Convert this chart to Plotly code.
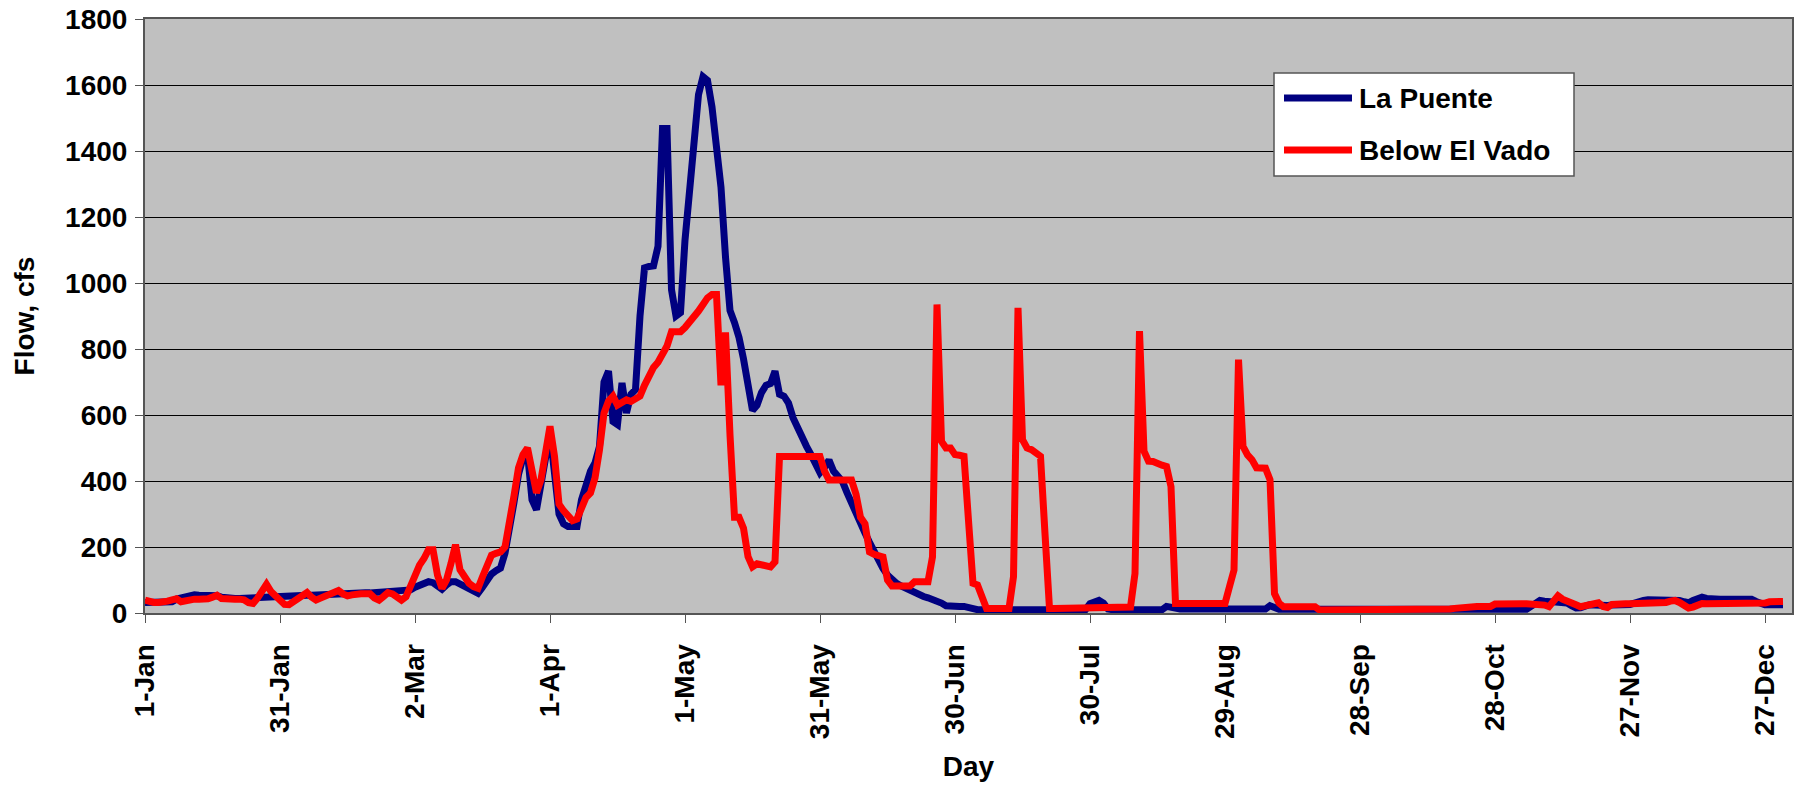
import pandas as pd
import plotly.graph_objects as go

# ---------------- data (daily flow, cfs) ----------------
YEAR = 2009  # any non-leap year
days = pd.date_range(f"{YEAR}-01-01", periods=365, freq="D")

tick_labels = ["1-Jan", "31-Jan", "2-Mar", "1-Apr", "1-May", "31-May", "30-Jun",
               "30-Jul", "29-Aug", "28-Sep", "28-Oct", "27-Nov", "27-Dec"]
y_ticks = [0, 200, 400, 600, 800, 1000, 1200, 1400, 1600, 1800]

series_names = ["La Puente", "Below El Vado"]

la_puente_jan = [32, 32, 31, 31, 31, 32, 34, 42, 46, 50, 55, 55, 54, 54, 54, 53, 52,
                 48, 45, 44, 44, 44, 45, 45, 46, 46, 47, 48, 49, 50, 50]
la_puente_feb = [51, 51, 52, 52, 53, 54, 54, 55, 55, 56, 56, 57, 58, 58, 59, 59, 60, 60,
                 61, 61, 62, 62, 63, 63, 64, 65, 66, 68]
la_puente_mar = [70, 78, 85, 90, 95, 92, 80, 72, 85, 95, 95, 88, 78, 70, 65, 60, 78, 100,
                 118, 128, 136, 181, 250, 335, 420, 470, 485, 343, 313, 384, 480]
la_puente_apr = [546, 424, 300, 270, 262, 262, 262, 343, 390, 430, 455, 505, 700, 733, 580,
                 571, 697, 606, 663, 677, 900, 1046, 1050, 1052, 1111, 1468, 1468, 980, 900, 910]
la_puente_may = [1130, 1270, 1425, 1571, 1625, 1614, 1533, 1425, 1290, 1079, 917, 880, 835,
                 770, 690, 614, 630, 668, 690, 695, 733, 663, 657, 636, 592, 560, 535, 505,
                 480, 450, 425]
la_puente_jun = [441, 463, 430, 410, 398, 365, 333, 295, 262, 242, 214, 185, 160, 135, 115,
                 100, 90, 82, 75, 68, 62, 56, 50, 46, 42, 38, 30, 22, 20, 20]
la_puente_jul = [20, 20, 15, 12, 10, 10, 10, 10, 10, 10, 10, 10, 10, 10, 10, 10, 10, 10, 10,
                 10, 10, 10, 10, 10, 10, 10, 10, 10, 10, 28, 36]
la_puente_aug = [38, 30, 12, 10, 10, 10, 10, 10, 10, 10, 10, 10, 10, 10, 10, 20, 16, 12, 12,
                 12, 12, 12, 12, 12, 12, 12, 12, 12, 12, 12, 12]
la_puente_sep = [12, 12, 12, 12, 12, 12, 12, 22, 14, 11, 11, 11, 11, 11, 11, 11, 11, 11, 11,
                 11, 11, 11, 11, 11, 11, 11, 11, 11, 11, 11]
la_puente_oct = [9, 9, 9, 9, 9, 9, 9, 9, 9, 9, 9, 9, 9, 9, 9, 9, 9, 9, 9, 9, 9, 9, 9, 9, 9,
                 9, 9, 11, 11, 11, 11]
la_puente_nov = [11, 11, 11, 11, 20, 32, 38, 36, 35, 34, 34, 33, 30, 22, 15, 16, 22, 25, 24,
                 22, 22, 23, 24, 24, 25, 25, 26, 30, 36, 38]
la_puente_dec = [40, 40, 40, 40, 40, 40, 40, 38, 34, 31, 38, 45, 48, 44, 42, 42, 42, 42, 42,
                 42, 42, 42, 42, 42, 35, 28, 25, 25, 25, 25, 25]

el_vado_jan = [39, 33, 32, 32, 32, 36, 40, 43, 34, 38, 41, 42, 42, 42, 43, 48, 54, 44, 42,
               42, 42, 42, 40, 31, 29, 45, 70, 87, 65, 50, 35]
el_vado_feb = [26, 25, 35, 45, 55, 62, 48, 39, 45, 52, 55, 62, 68, 58, 52, 55, 58, 58, 58,
               58, 45, 39, 50, 62, 58, 45, 39, 49]
el_vado_mar = [85, 120, 145, 165, 192, 192, 115, 75, 100, 150, 207, 131, 110, 90, 80, 75,
               110, 140, 175, 181, 185, 200, 270, 355, 440, 480, 500, 424, 364, 404, 500]
el_vado_apr = [566, 475, 330, 310, 295, 280, 285, 323, 350, 364, 409, 495, 606, 642, 657,
               630, 641, 646, 641, 650, 657, 690, 720, 744, 760, 790, 809, 852, 852, 852]
el_vado_may = [865, 880, 895, 915, 935, 955, 965, 965, 690, 850, 540, 290, 290, 257, 171,
               140, 149, 145, 140, 140, 155, 474, 474, 474, 474, 474, 474, 474, 474, 474, 474]
el_vado_jun = [430, 403, 403, 403, 403, 403, 403, 360, 290, 270, 185, 178, 176, 170, 100,
               82, 82, 82, 82, 82, 95, 95, 95, 95, 170, 935, 520, 500, 500, 480]
el_vado_jul = [478, 475, 280, 90, 85, 50, 14, 14, 14, 14, 14, 14, 110, 925, 525, 500, 495,
               485, 475, 240, 14, 14, 14, 14, 14, 14, 14, 14, 14, 14, 14]
el_vado_aug = [14, 14, 14, 14, 14, 14, 14, 18, 120, 854, 490, 460, 459, 452, 448, 444, 383,
               29, 29, 29, 29, 29, 29, 29, 29, 29, 29, 29, 29, 80, 130]
el_vado_sep = [768, 505, 479, 464, 440, 439, 439, 404, 59, 30, 19, 19, 19, 19, 19, 19, 19,
               19, 9, 9, 9, 9, 9, 9, 9, 9, 9, 9, 9, 9]
el_vado_oct = [8, 8, 8, 8, 8, 8, 8, 8, 8, 8, 8, 8, 8, 8, 8, 9, 10, 12, 14, 16, 17, 17, 20,
               20, 20, 20, 20, 27, 28, 28, 28]
el_vado_nov = [28, 28, 28, 28, 28, 28, 28, 24, 19, 40, 52, 42, 38, 32, 25, 19, 22, 24, 28,
               31, 20, 17, 26, 28, 28, 28, 28, 28, 28, 28]
el_vado_dec = [28, 28, 28, 28, 32, 36, 38, 32, 24, 15, 18, 24, 29, 28, 28, 28, 28, 28, 28,
               28, 28, 28, 28, 28, 28, 28, 30, 34, 35, 35, 35]

la_puente = (la_puente_jan + la_puente_feb + la_puente_mar + la_puente_apr + la_puente_may
             + la_puente_jun + la_puente_jul + la_puente_aug + la_puente_sep + la_puente_oct
             + la_puente_nov + la_puente_dec)
below_el_vado = (el_vado_jan + el_vado_feb + el_vado_mar + el_vado_apr + el_vado_may
                 + el_vado_jun + el_vado_jul + el_vado_aug + el_vado_sep + el_vado_oct
                 + el_vado_nov + el_vado_dec)
assert len(la_puente) == 365 and len(below_el_vado) == 365

tick_vals = [pd.to_datetime(f"{t}-{YEAR}", format="%d-%b-%Y") for t in tick_labels]

# ---------------- styling ----------------
W, H = 1807, 788
L, R, T, B = 145, 15, 19, 175
FONT = "Liberation Sans, Arial, Helvetica, sans-serif"
colors = ["#000080", "#FF0000"]

fig = go.Figure()
for name, vals, col in zip(series_names, [la_puente, below_el_vado], colors):
    fig.add_trace(go.Scatter(x=days, y=vals, mode="lines", name=name,
                             line=dict(color=col, width=7), showlegend=False))

fig.update_layout(
    width=W, height=H,
    margin=dict(l=L, r=R, t=T, b=B, pad=0, autoexpand=False),
    paper_bgcolor="white", plot_bgcolor="#C0C0C0",
    font=dict(family=FONT, size=28, color="black"),
    showlegend=False,
)

fig.update_xaxes(
    type="date", automargin=False,
    range=[days[0], days[0] + pd.Timedelta(days=366)],
    tickmode="array", tickvals=tick_vals, ticktext=tick_labels,
    tickangle=-90, ticks="outside", ticklen=8, tickwidth=1, tickcolor="#555555",
    ticklabelstandoff=10,
    tickfont=dict(family=FONT, size=28, color="black", weight="bold"),
    showgrid=False, zeroline=False,
    showline=True, linecolor="#555555", linewidth=2, mirror=True,
    title=dict(text="Day", font=dict(family=FONT, size=28, color="black", weight="bold"),
               standoff=18),
)
fig.update_yaxes(
    automargin=False,
    range=[0, 1800], tickmode="array", tickvals=y_ticks,
    ticks="outside", ticklen=8, tickwidth=1, tickcolor="#555555",
    ticklabelstandoff=2,
    tickfont=dict(family=FONT, size=28, color="black", weight="bold"),
    showgrid=True, gridcolor="#000000", gridwidth=1, zeroline=False,
    showline=True, linecolor="#555555", linewidth=2, mirror=True,
    title=dict(text="Flow, cfs", font=dict(family=FONT, size=28, color="black", weight="bold"),
               standoff=22),
)

# ---------------- legend (boxed, upper right) ----------------
pw, ph = W - L - R, H - T - B
def px(x):
    return (x - L) / pw
def py(y):
    return (H - B - y) / ph

fig.add_shape(type="rect", xref="paper", yref="paper",
              x0=px(1274), x1=px(1574), y0=py(176), y1=py(73),
              fillcolor="white", line=dict(color="#555555", width=1.5), layer="above")
for i, (name, col) in enumerate(zip(series_names, colors)):
    yc = [98, 150][i]
    fig.add_shape(type="line", xref="paper", yref="paper",
                  x0=px(1284), x1=px(1352), y0=py(yc), y1=py(yc),
                  line=dict(color=col, width=7), layer="above")
    fig.add_annotation(xref="paper", yref="paper", x=px(1357), y=py(yc),
                       text=name, showarrow=False, xanchor="left", yanchor="middle",
                       font=dict(family=FONT, size=28, color="black", weight="bold"))

fig.write_html("out.html", config={"displayModeBar": False},
               post_script="document.body.style.margin='0';")
